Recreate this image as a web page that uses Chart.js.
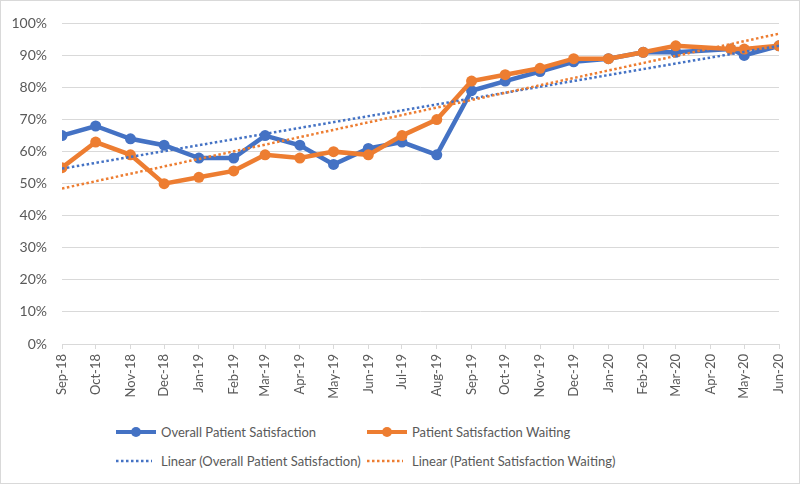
<!DOCTYPE html>
<html>
<head>
<meta charset="utf-8">
<script src="https://cdn.jsdelivr.net/npm/chart.js@4"></script>
<style>
  body { margin: 0; background: #fff; }
  #frame { position: relative; width: 800px; height: 484px; box-sizing: border-box; border: 1px solid #d9d9d9; font-family: Lato, sans-serif; color: #595959; }
  #plot { position: absolute; left: -1px; top: -1px; width: 800px; height: 410px; }
  .item { position: absolute; font-size: 13px; line-height: 18px; white-space: nowrap; }
  .item svg { position: absolute; left: -46px; top: 0; }
</style>
</head>
<body>
<div id="frame">
  <div id="plot"><canvas id="chart"></canvas></div>
  <div id="legend"></div>
</div>
<script>
// ----- DATA -----
const tickDates = ["2018-09-01", "2018-10-01", "2018-11-01", "2018-12-01", "2019-01-01", "2019-02-01",
    "2019-03-01", "2019-04-01", "2019-05-01", "2019-06-01", "2019-07-01", "2019-08-01", "2019-09-01",
    "2019-10-01", "2019-11-01", "2019-12-01", "2020-01-01", "2020-02-01", "2020-03-01", "2020-04-01",
    "2020-05-01", "2020-06-01"];
const tickLabels = ["Sep-18", "Oct-18", "Nov-18", "Dec-18", "Jan-19", "Feb-19", "Mar-19", "Apr-19",
    "May-19", "Jun-19", "Jul-19", "Aug-19", "Sep-19", "Oct-19", "Nov-19", "Dec-19", "Jan-20", "Feb-20",
    "Mar-20", "Apr-20", "May-20", "Jun-20"];

const pointDates = ["2018-09-01", "2018-10-01", "2018-11-01", "2018-12-01", "2019-01-01", "2019-02-01",
    "2019-03-01", "2019-04-01", "2019-05-01", "2019-06-01", "2019-07-01", "2019-08-01", "2019-09-01",
    "2019-10-01", "2019-11-01", "2019-12-01", "2020-01-01", "2020-02-01", "2020-03-01", "2020-04-19",
    "2020-05-01", "2020-06-01"];
const overallSatisfaction = [0.65, 0.68, 0.64, 0.62, 0.58, 0.58, 0.65, 0.62, 0.56, 0.61, 0.63, 0.59,
    0.79, 0.82, 0.85, 0.88, 0.89, 0.91, 0.91, 0.92, 0.90, 0.93];
const waitingSatisfaction = [0.55, 0.63, 0.59, 0.50, 0.52, 0.54, 0.59, 0.58, 0.60, 0.59, 0.65, 0.70,
    0.82, 0.84, 0.86, 0.89, 0.89, 0.91, 0.93, 0.92, 0.92, 0.93];

// linear trend lines, end points
const trendDates = ["2018-09-01", "2020-06-01"];
const overallTrend = [0.547, 0.930];
const waitingTrend = [0.485, 0.968];

const seriesNames = ["Overall Patient Satisfaction", "Patient Satisfaction Waiting",
    "Linear (Overall Patient Satisfaction)", "Linear (Patient Satisfaction Waiting)"];

// ----- HELPERS -----
const BLUE = "#4472C4";
const ORANGE = "#ED7D31";
const start = Date.parse(tickDates[0]);
const toDay = d => (Date.parse(d) - start) / 86400000;
const points = (dates, values) => dates.map((d, i) => ({ x: toDay(d), y: values[i] }));
const tickDays = tickDates.map(toDay);

// ----- CHART -----
new Chart(document.getElementById("chart"), {
    type: "line",
    data: {
        datasets: [
            { label: seriesNames[0], data: points(pointDates, overallSatisfaction), borderColor: BLUE, backgroundColor: BLUE,
              borderWidth: 4.5, pointRadius: 5.5, pointBorderWidth: 0, order: 4 },
            { label: seriesNames[1], data: points(pointDates, waitingSatisfaction), borderColor: ORANGE, backgroundColor: ORANGE,
              borderWidth: 4.5, pointRadius: 5.5, pointBorderWidth: 0, order: 3 },
            { label: seriesNames[2], data: points(trendDates, overallTrend), borderColor: BLUE,
              borderWidth: 2.5, borderDash: [2.5, 2.5], pointRadius: 0, order: 2 },
            { label: seriesNames[3], data: points(trendDates, waitingTrend), borderColor: ORANGE,
              borderWidth: 2.5, borderDash: [2.5, 2.5], pointRadius: 0, order: 1 }
        ]
    },
    options: {
        responsive: true,
        maintainAspectRatio: false,
        animation: false,
        layout: { padding: { left: 10, right: 21, top: 20, bottom: 0 } },
        plugins: { legend: { display: false }, tooltip: { enabled: false } },
        scales: {
            x: {
                type: "linear",
                min: tickDays[0],
                max: tickDays[tickDays.length - 1],
                afterBuildTicks: s => { s.ticks = tickDays.map(v => ({ value: v })); },
                afterFit: s => { s.height = 66; },
                grid: { drawOnChartArea: false, drawTicks: true, tickLength: 5, color: "#d9d9d9" },
                border: { display: true, color: "#d9d9d9" },
                ticks: {
                    autoSkip: false, minRotation: 90, maxRotation: 90, padding: 5,
                    color: "#595959", font: { family: "Lato", size: 13 },
                    callback: v => tickLabels[tickDays.indexOf(v)]
                }
            },
            y: {
                min: 0,
                max: 1,
                afterFit: s => { s.width = 52; },
                grid: { color: "#d9d9d9", drawTicks: false },
                border: { display: false },
                ticks: {
                    stepSize: 0.1, padding: 15,
                    color: "#595959", font: { family: "Lato", size: 14 },
                    callback: v => Math.round(v * 100) + "%"
                }
            }
        }
    }
});

// ----- LEGEND -----
const legend = document.getElementById("legend");
const legendPos = [[160, 422], [411, 422], [160, 451], [411, 451]];
const legendColors = [BLUE, ORANGE, BLUE, ORANGE];
seriesNames.forEach((name, i) => {
    const solid = i < 2;
    const sample = solid
        ? `<line x1="1" y1="9" x2="41" y2="9" stroke="${legendColors[i]}" stroke-width="4"/><circle cx="21" cy="9" r="5" fill="${legendColors[i]}"/>`
        : `<line x1="1" y1="9" x2="37" y2="9" stroke="${legendColors[i]}" stroke-width="2.5" stroke-dasharray="2.5 2.5"/>`;
    legend.innerHTML += `
        <div class="item" style="left:${legendPos[i][0]}px; top:${legendPos[i][1]}px">
            <svg width="44" height="18">${sample}</svg>${name}
        </div>`;
});
</script>
</body>
</html>
